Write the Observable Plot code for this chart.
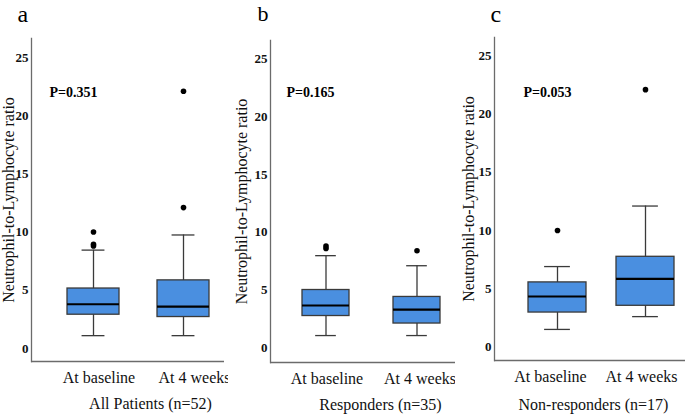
<!DOCTYPE html>
<html><head><meta charset="utf-8">
<script src="https://cdn.jsdelivr.net/npm/d3@7"></script>
<script src="https://cdn.jsdelivr.net/npm/@observablehq/plot@0.6"></script>
<style>
body{margin:0;background:#fff;}
#chart{display:flex;width:685px;height:415px;overflow:hidden;}
#chart svg{display:block;overflow:visible;font-family:"Liberation Serif","Times New Roman",serif !important;}
#chart svg text{font-family:"Liberation Serif","Times New Roman",serif !important;}
g[aria-label="y-axis tick label"] text{font-weight:bold;}
</style></head><body><div id="chart"></div>
<script>
// ---- data ----
const panelLetters = ["a", "b", "c"];
const panelTitles = ["All Patients (n=52)", "Responders (n=35)", "Non-responders (n=17)"];
const pLabels = ["P=0.351", "P=0.165", "P=0.053"];
const groups = ["At baseline", "At 4 weeks"];
const yTicks = [0, 5, 10, 15, 20, 25];
const yLabel = "Neutrophil-to-Lymphocyte ratio";
const whiskerLow  = [[1.1, 1.1], [1.06, 1.06], [1.5, 2.6]];
const q1          = [[2.9, 2.7], [2.75, 2.1], [2.95, 3.53]];
const median      = [[3.8, 3.6], [3.66, 3.3], [4.33, 5.85]];
const q3          = [[5.15, 5.85], [5.0, 4.4], [5.54, 7.74]];
const whiskerHigh = [[8.45, 9.75], [7.97, 7.1], [6.9, 12.1]];
const outliers    = [[[8.8, 8.95, 10.0], [12.1, 22.1]], [[8.6, 8.8], [8.4]], [[10.0], [22.1]]];

// ---- layout (positions / styles) ----
const layouts = [
  {width: 228, mL: 31, mR: 4, mT: 38, mB: 54, centers: [93, 183], bw: 52, yDomain: [-1.12, 26.63],
   tickDx: [5.5, 11], letter: {size: 24, dx: -14, dy: -16.5}, p: {dx: 18, dy: 58}, title: {dx: 22.5, dy: 47}, yLabDx: -23},
  {width: 227, mL: 42, mR: 0, mT: 40, mB: 53, centers: [97, 188], bw: 47, yDomain: [-1.27, 26.58],
   tickDx: [1, 3], letter: {size: 22, dx: -13, dy: -20}, p: {dx: 16, dy: 56}, title: {dx: 17.5, dy: 47}, yLabDx: -29},
  {width: 230, mL: 39, mR: 0, mT: 37, mB: 55, centers: [102, 190], bw: 57.5, yDomain: [-1.17, 26.58],
   tickDx: [-7, -4], letter: {size: 24, dx: -4, dy: -15.5}, p: {dx: 29, dy: 59}, title: {dx: 3.5, dy: 49}, yLabDx: -26}
];

const boxFill = "#4a8fe0";
const boxStroke = "#3a3a3a";
const axisColor = "#6b6b6b";
const font = "Liberation Serif";

const chart = document.getElementById("chart");

panelLetters.forEach((letter, i) => {
  const L = layouts[i];
  const rows = groups.map((g, j) => ({
    group: g, lo: whiskerLow[i][j], q1: q1[i][j], med: median[i][j], q3: q3[i][j], hi: whiskerHigh[i][j]
  }));
  const pts = groups.flatMap((g, j) => outliers[i][j].map(v => ({group: g, value: v})));
  const s = L.centers[1] - L.centers[0];
  const pi = 1 - L.bw / s;
  const capInset = L.bw * 0.28;

  const svg = Plot.plot({
    width: L.width,
    height: 415,
    marginLeft: L.mL, marginRight: L.mR, marginTop: L.mT, marginBottom: L.mB,
    style: {fontFamily: font, fontSize: "16px", color: "#111", background: "#fff"},
    x: {domain: groups, range: [L.centers[0] - s / 2, L.centers[1] + s / 2], paddingInner: pi, paddingOuter: pi / 2, align: 0.5, label: null},
    y: {domain: L.yDomain, label: null},
    marks: [
      Plot.frame({anchor: "left", stroke: axisColor, strokeWidth: 1.3}),
      Plot.ruleY([L.yDomain[0]], {stroke: axisColor, strokeWidth: 1.3}),
      Plot.axisY({ticks: yTicks, tickSize: 0, tickPadding: 3, fontSize: 13, fontFamily: font, label: null}),
      Plot.axisX({ticks: [groups[0]], tickSize: 0, tickPadding: 10, dx: L.tickDx[0], fontSize: 16, fontFamily: font, label: null}),
      Plot.axisX({ticks: [groups[1]], tickSize: 0, tickPadding: 10, dx: L.tickDx[1], fontSize: 16, fontFamily: font, label: null}),
      Plot.ruleX(rows, {x: "group", y1: "lo", y2: "hi", stroke: boxStroke, strokeWidth: 1.3}),
      Plot.tickY(rows, {x: "group", y: "lo", stroke: boxStroke, strokeWidth: 1.3, insetLeft: capInset, insetRight: capInset}),
      Plot.tickY(rows, {x: "group", y: "hi", stroke: boxStroke, strokeWidth: 1.3, insetLeft: capInset, insetRight: capInset}),
      Plot.barY(rows, {x: "group", y1: "q1", y2: "q3", fill: boxFill, stroke: boxStroke, strokeWidth: 1.3}),
      Plot.tickY(rows, {x: "group", y: "med", stroke: "#000", strokeWidth: 2.2}),
      Plot.dot(pts, {x: "group", y: "value", r: 2.8, fill: "#000", stroke: "none"}),
      Plot.text([pLabels[i]], {frameAnchor: "top-left", dx: L.p.dx, dy: L.p.dy, textAnchor: "start", lineAnchor: "bottom", fontSize: 14, fontWeight: "bold", fontFamily: font, fill: "#000"}),
      Plot.text([letter], {frameAnchor: "top-left", dx: L.letter.dx, dy: L.letter.dy, textAnchor: "start", lineAnchor: "bottom", fontSize: L.letter.size, fontFamily: font, fill: "#000"}),
      Plot.text([panelTitles[i]], {frameAnchor: "bottom", dx: L.title.dx, dy: L.title.dy, textAnchor: "middle", lineAnchor: "bottom", fontSize: 16, fontFamily: font, fill: "#111"}),
      Plot.text([yLabel], {frameAnchor: "left", dx: L.yLabDx, rotate: -90, textAnchor: "middle", lineAnchor: "middle", fontSize: 16, fontFamily: font, fill: "#111"})
    ]
  });
  chart.appendChild(svg);
});
</script>
</body></html>
